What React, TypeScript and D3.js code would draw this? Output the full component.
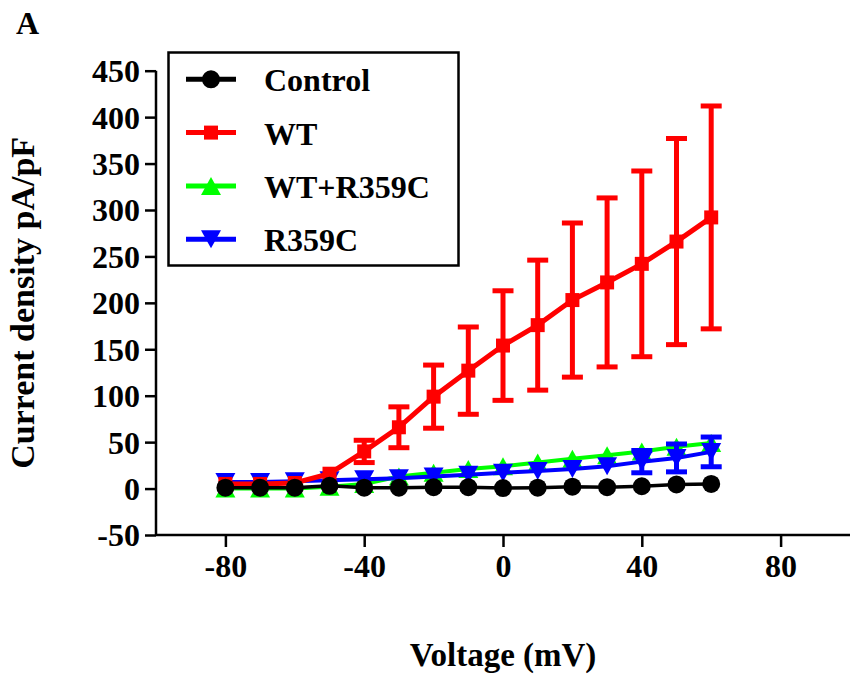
import React, { useEffect, useRef } from "react";
import * as d3 from "d3";

// voltage steps (mV)
const voltages = [-80, -70, -60, -50, -40, -30, -20, -10, 0, 10, 20, 30, 40, 50, 60];

// mean current density (pA/pF) and error per series
const controlMean = [1, 1, 1, 3, 1, 1, 1.5, 1.5, 0.5, 1, 2, 1.5, 2.5, 4.5, 5];
const controlErr = [0.5, 0.5, 0.5, 1, 0.5, 0.5, 0.5, 0.5, 0.5, 0.5, 1, 1, 1, 1, 1];
const wtMean = [5, 5, 6, 16, 40, 66, 99, 127, 154, 176, 203, 222, 242, 266, 292];
const wtErr = [1, 1, 1, 3, 12, 22, 34, 47, 59, 70, 83, 91, 100, 111, 120];
const wtR359cMean = [0, 0, 0, 2, 5, 13, 17, 21, 24, 28, 32, 36, 40, 45, 49];
const wtR359cErr = [1, 1, 1, 1, 1, 2, 2, 2, 2, 3, 3, 3, 4, 4, 4];
const r359cMean = [7, 7, 8, 9, 10, 11, 13, 15, 17, 19, 21, 24, 29, 33, 39.5];
const r359cErr = [1, 1, 1, 1, 2, 2, 2, 3, 3, 3, 4, 5, 12, 15, 16];

const xTicks = [-80, -40, 0, 40, 80];
const yTicks = [-50, 0, 50, 100, 150, 200, 250, 300, 350, 400, 450];

const App = () => {
  const chartRef = useRef<HTMLDivElement>(null);

  useEffect(() => {
    const width = 851;
    const height = 682;
    const font = "'Liberation Serif', 'Times New Roman', serif";

    const x = d3.scaleLinear().domain([-100, 100]).range([156, 850]);
    const y = d3.scaleLinear().domain([-50, 450]).range([535, 70.7]);

    const series = [
      { name: "WT+R359C", mean: wtR359cMean, err: wtR359cErr, color: "#00ff00", width: 4, marker: "up" },
      { name: "R359C", mean: r359cMean, err: r359cErr, color: "#0000ff", width: 4, marker: "down" },
      { name: "WT", mean: wtMean, err: wtErr, color: "#ff0000", width: 5, marker: "square" },
      { name: "Control", mean: controlMean, err: controlErr, color: "#000000", width: 3.5, marker: "circle" }
    ];
    const legendOrder = ["Control", "WT", "WT+R359C", "R359C"];

    const markerPath = (m: string) => {
      if (m === "circle") return d3.arc()({ innerRadius: 0, outerRadius: 9, startAngle: 0, endAngle: 2 * Math.PI } as any);
      if (m === "square") return "M-7,-7H7V7H-7Z";
      if (m === "up") return "M0,-9L10,9L-10,9Z";
      return "M0,9L10,-9L-10,-9Z";
    };

    const svg = d3.select(chartRef.current)
      .append("svg")
      .attr("width", width)
      .attr("height", height)
      .style("display", "block")
      .style("background", "#ffffff")
      .style("font-family", font)
      .style("font-weight", "bold");

    // panel letter
    svg.append("text").attr("x", 16).attr("y", 34).attr("font-size", 32).text("A");

    // data
    series.forEach(s => {
      const g = svg.append("g");
      const pts = voltages.map((v, i) => ({ v, m: s.mean[i], e: s.err[i] }));

      // error bars
      const eb = g.append("g").attr("stroke", s.color).attr("stroke-width", 5).attr("fill", "none");
      pts.forEach(p => {
        const top = y(p.m + p.e), bot = y(p.m - p.e);
        if (bot - top < 12) return;
        eb.append("line").attr("x1", x(p.v)).attr("x2", x(p.v)).attr("y1", top).attr("y2", bot);
        eb.append("line").attr("x1", x(p.v) - 10.5).attr("x2", x(p.v) + 10.5).attr("y1", top).attr("y2", top);
        eb.append("line").attr("x1", x(p.v) - 10.5).attr("x2", x(p.v) + 10.5).attr("y1", bot).attr("y2", bot);
      });

      g.append("path")
        .datum(pts)
        .attr("fill", "none")
        .attr("stroke", s.color)
        .attr("stroke-width", s.width)
        .attr("d", d3.line<any>().x(p => x(p.v)).y(p => y(p.m)));

      g.selectAll("path.mk")
        .data(pts)
        .join("path")
        .attr("class", "mk")
        .attr("fill", s.color)
        .attr("transform", p => `translate(${x(p.v)},${y(p.m)})`)
        .attr("d", markerPath(s.marker));
    });

    // axes
    const yAxis = svg.append("g").attr("transform", `translate(${x(-100)},0)`)
      .call(d3.axisLeft(y).tickValues(yTicks).tickSize(11).tickPadding(5).tickFormat(d3.format("d")));
    const xAxis = svg.append("g").attr("transform", `translate(0,${y(-50)})`)
      .call(d3.axisBottom(x).tickValues(xTicks).tickSize(12).tickPadding(7).tickFormat(d3.format("d")));
    [yAxis, xAxis].forEach(a => {
      a.select(".domain").attr("stroke", "#000").attr("stroke-width", 2.5);
      a.selectAll(".tick line").attr("stroke", "#000").attr("stroke-width", 2.5);
      a.selectAll(".tick text")
        .attr("fill", "#000")
        .style("font-family", font)
        .style("font-weight", "bold")
        .style("font-size", "32px")
        .text((d: any) => String(d).replace("\u2212", "-"));
    });
    yAxis.select(".domain").attr("d", `M0,${y(-50)}V${y(450)}`);
    yAxis.selectAll(".tick line").attr("x2", -11);
    yAxis.selectAll(".tick text").attr("dy", "0.34em");
    xAxis.select(".domain").attr("d", `M${x(-100)},0H${x(100)}`);
    xAxis.selectAll(".tick text").attr("dy", "0.71em");

    // axis titles
    svg.append("text")
      .attr("x", (x(-100) + x(100)) / 2)
      .attr("y", 666)
      .attr("text-anchor", "middle")
      .attr("font-size", 33)
      .text("Voltage (mV)");
    svg.append("text")
      .attr("transform", `translate(34,${(y(-50) + y(450)) / 2}) rotate(-90)`)
      .attr("text-anchor", "middle")
      .attr("font-size", 34)
      .text("Current density pA/pF");

    // legend
    const lg = svg.append("g");
    lg.append("rect")
      .attr("x", 168.5).attr("y", 52.5).attr("width", 290).attr("height", 213)
      .attr("fill", "#fff").attr("stroke", "#000").attr("stroke-width", 2.5);
    legendOrder.forEach((name, i) => {
      const s = series.find(d => d.name === name)!;
      const ly = 79.3 + i * 53.3;
      lg.append("line").attr("x1", 186).attr("x2", 236).attr("y1", ly).attr("y2", ly)
        .attr("stroke", s.color).attr("stroke-width", 5);
      lg.append("path").attr("transform", `translate(211,${ly})`).attr("fill", s.color).attr("d", markerPath(s.marker));
      lg.append("text").attr("x", 264).attr("y", ly + 12).attr("font-size", 32).text(name);
    });

    return () => {
      d3.select(chartRef.current).select("svg").remove();
    };
  }, []);

  return <div ref={chartRef} style={{ position: "absolute", left: 0, top: 0 }}></div>;
};

export default App;
